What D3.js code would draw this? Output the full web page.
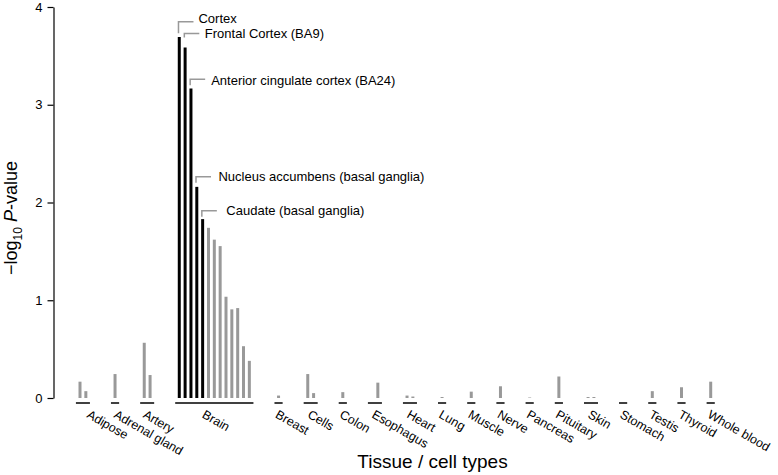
<!DOCTYPE html>
<html>
<head>
<meta charset="utf-8">
<script src="https://cdn.jsdelivr.net/npm/d3@7"></script>
<style>
  body { margin: 0; background: #fff; }
  text { font-family: "Liberation Sans", Arial, Helvetica, sans-serif; fill: #000; }
</style>
</head>
<body>
<script>
const width = 778;
const height = 475;

// tissue groups, left to right
const tissues = ["Adipose", "Adrenal gland", "Artery", "Brain", "Breast", "Cells", "Colon",
  "Esophagus", "Heart", "Lung", "Muscle", "Nerve", "Pancreas", "Pituitary", "Skin",
  "Stomach", "Testis", "Thyroid", "Whole blood"];

// -log10 P per sub-tissue, grouped by tissue
const tissueValues = [
  [0.167, 0.07],
  [0.245],
  [0.565, 0.235],
  [3.694, 3.586, 3.167, 2.16, 1.83, 1.741, 1.62, 1.554, 1.036, 0.907, 0.92, 0.53, 0.38],
  [0.025],
  [0.245, 0.05],
  [0.06],
  [0, 0.157],
  [0.025, 0.015],
  [0.01],
  [0.065],
  [0.12],
  [0.005],
  [0.22],
  [0.01, 0.01],
  [0],
  [0.07],
  [0.11],
  [0.167]
];

// annotated (significant) brain regions = first five brain bars
const annotNames = ["Cortex", "Frontal Cortex (BA9)", "Anterior cingulate cortex (BA24)",
  "Nucleus accumbens (basal ganglia)", "Caudate (basal ganglia)"];
const annotLevels = [3.848, 3.729, 3.262, 2.263, 1.915];

const yTicks = [0, 1, 2, 3, 4];

const groupGap = 5;
const grey = "#999999";

// lay out bar indices
let pos = 0;
const bars = [];
const groupInfo = tissues.map((t, gi) => {
  const first = pos;
  tissueValues[gi].forEach((v, j) => {
    bars.push({ tissue: t, j, value: v, idx: pos });
    pos += 1;
  });
  const last = pos - 1;
  pos += groupGap - 1;
  return { tissue: t, first, last };
});
const maxIdx = bars[bars.length - 1].idx;

const x = d3.scaleLinear().domain([0, maxIdx]).range([80, 710.7]);
const y = d3.scaleLinear().domain([0, 4]).range([398, 7]);

const svg = d3.select("body").append("svg")
  .attr("width", width)
  .attr("height", height);

// y axis
const yAxisG = svg.append("g")
  .attr("transform", "translate(53.5,0)")
  .call(d3.axisLeft(y).tickValues(yTicks).tickSize(6).tickSizeOuter(0).tickPadding(5).tickFormat(d3.format("d")));
yAxisG.select(".domain").attr("stroke", "#000").attr("stroke-width", 1.2);
yAxisG.selectAll(".tick line").attr("stroke", "#000").attr("stroke-width", 1.2);
yAxisG.selectAll(".tick text")
  .style("font-family", "'Liberation Sans', Arial, sans-serif")
  .style("font-size", "13px")
  .attr("fill", "#000");

// bars
const isHighlighted = d => d.tissue === "Brain" && d.j < annotNames.length;

svg.append("g").selectAll("line.bar").data(bars).enter().append("line")
  .attr("class", "bar")
  .attr("x1", d => x(d.idx))
  .attr("x2", d => x(d.idx))
  .attr("y1", y(0))
  .attr("y2", d => y(d.value))
  .attr("stroke", d => isHighlighted(d) ? "#000" : grey)
  .attr("stroke-width", 3);

// group underlines
svg.append("g").selectAll("line.group").data(groupInfo).enter().append("line")
  .attr("class", "group")
  .attr("x1", d => x(d.first - 0.7))
  .attr("x2", d => x(d.last + 0.7))
  .attr("y1", 403)
  .attr("y2", 403)
  .attr("stroke", "#000")
  .attr("stroke-width", 1.5);

// group labels, rotated
const labelNudge = { "Adipose": 7, "Adrenal gland": 2, "Artery": -1, "Brain": -9 };
svg.append("g").selectAll("text.group").data(groupInfo).enter().append("text")
  .attr("class", "group")
  .attr("transform", d => {
    const cx = (x(d.first) + x(d.last)) / 2 - 4 + (labelNudge[d.tissue] || 0);
    return `translate(${cx},417) rotate(30)`;
  })
  .style("font-size", "12.5px")
  .text(d => d.tissue);

// annotations for brain regions
const brainFirst = groupInfo[tissues.indexOf("Brain")].first;
const leaderDrop = [11.5, 4, 6, 6, 6];
const textGap = [5, 5.5, 6, 7.5, 9.5];
const textDy = [1, 4.5, 5.5, 4.5, 4];
const annots = annotNames.map((name, i) => ({ name, level: annotLevels[i], idx: brainFirst + i, i }));

const annG = svg.append("g");
annG.selectAll("path").data(annots).enter().append("path")
  .attr("d", d => {
    const lx = x(d.idx) - 0.8;
    const ly = y(d.level);
    return `M${lx},${ly + leaderDrop[d.i]}V${ly}H${lx + 15}`;
  })
  .attr("fill", "none")
  .attr("stroke", grey)
  .attr("stroke-width", 1.5);

annG.selectAll("text").data(annots).enter().append("text")
  .attr("x", d => x(d.idx) - 0.8 + 15 + textGap[d.i])
  .attr("y", d => y(d.level) + textDy[d.i])
  .style("font-size", "13px")
  .text(d => d.name);

// axis titles
svg.append("text")
  .attr("x", 432.5)
  .attr("y", 468)
  .attr("text-anchor", "middle")
  .style("font-size", "19px")
  .text("Tissue / cell types");

const yTitle = svg.append("text")
  .attr("transform", "translate(17,218) rotate(-90)")
  .attr("text-anchor", "middle")
  .style("font-size", "18px");
yTitle.append("tspan").text("\u2212log");
yTitle.append("tspan").attr("dy", 5).style("font-size", "12px").text("10");
yTitle.append("tspan").attr("dy", -5).text(" ");
yTitle.append("tspan").style("font-style", "italic").text("P");
yTitle.append("tspan").text("-value");
</script>
</body>
</html>
